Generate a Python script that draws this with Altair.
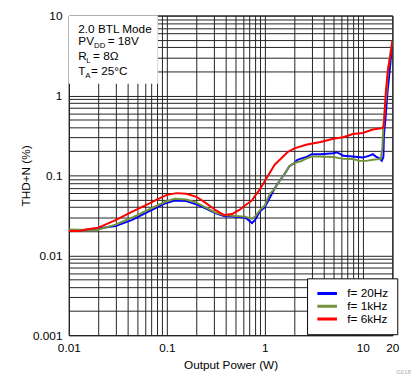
import altair as alt
import pandas as pd

# ---------------- data ----------------
series_names = ["f= 20Hz", "f= 1kHz", "f= 6kHz"]
series_colors = ["#0000FF", "#76923C", "#FF0000"]

p_20hz = [0.01, 0.019, 0.0206, 0.030, 0.0443, 0.065, 0.095, 0.12, 0.158, 0.2, 0.251, 0.316,
          0.383, 0.464, 0.631, 0.708, 0.74, 0.794, 0.89, 1.0, 1.12, 1.26, 1.41, 1.58, 1.78,
          2.0, 2.15, 2.7, 3.0, 3.7, 5.0, 5.4, 5.9, 6.3, 7.9, 10, 11.7, 12.6, 13.6, 14.7,
          15.6, 16.2, 16.4, 17.1, 17.8, 18.5, 19.2, 20]
t_20hz = [0.0204, 0.021, 0.0218, 0.0232, 0.0278, 0.0353, 0.0443, 0.0485, 0.0477, 0.0434,
          0.0385, 0.0335, 0.031, 0.0305, 0.0297, 0.0265, 0.0253, 0.0278, 0.0353, 0.040,
          0.052, 0.069, 0.085, 0.103, 0.13, 0.143, 0.157, 0.172, 0.184, 0.184, 0.189, 0.195,
          0.184, 0.176, 0.172, 0.167, 0.177, 0.184, 0.172, 0.164, 0.152, 0.17, 0.316, 0.555,
          1.07, 1.7, 2.7, 4.5]

p_1khz = [0.01, 0.019, 0.03, 0.0443, 0.065, 0.095, 0.12, 0.158, 0.2, 0.251, 0.316, 0.383,
          0.464, 0.631, 0.736, 0.794, 0.89, 1.0, 1.12, 1.26, 1.41, 1.58, 1.78, 2.0, 2.33,
          2.7, 3.0, 3.5, 5.0, 6.3, 7.9, 9.3, 10.8, 12.6, 15.2, 15.8, 16.2, 16.7, 17.4, 18.0,
          19.2, 20]
t_1khz = [0.021, 0.0206, 0.0242, 0.0297, 0.0374, 0.0464, 0.0509, 0.050, 0.0456, 0.0396,
          0.0341, 0.0319, 0.0313, 0.0305, 0.0285, 0.0305, 0.0368, 0.042, 0.059, 0.0676,
          0.085, 0.103, 0.13, 0.143, 0.15, 0.164, 0.172, 0.172, 0.17, 0.161, 0.16, 0.152,
          0.152, 0.157, 0.161, 0.218, 0.42, 0.67, 1.07, 2.06, 3.6, 4.8]

p_6khz = [0.01, 0.013, 0.015, 0.02, 0.03, 0.045, 0.065, 0.08, 0.1, 0.126, 0.158, 0.2,
          0.215, 0.251, 0.316, 0.383, 0.464, 0.55, 0.631, 0.74, 0.79, 0.86, 1.0, 1.26, 1.7,
          2.0, 2.7, 3.7, 5.0, 6.3, 7.9, 10, 12.6, 15.8, 16.3, 16.7, 17.1, 18.0, 19.2, 20]
t_6khz = [0.0202, 0.0202, 0.021, 0.0222, 0.0275, 0.0354, 0.044, 0.050, 0.057, 0.060, 0.059,
          0.054, 0.051, 0.045, 0.0367, 0.0319, 0.0328, 0.037, 0.0423, 0.0486, 0.055, 0.063,
          0.085, 0.136, 0.195, 0.218, 0.243, 0.262, 0.288, 0.30, 0.33, 0.34, 0.375, 0.39,
          0.41, 0.61, 1.07, 2.06, 3.3, 4.8]

x_grid = [0.01, 0.02, 0.03, 0.04, 0.05, 0.06, 0.07, 0.08, 0.09,
          0.1, 0.2, 0.3, 0.4, 0.5, 0.6, 0.7, 0.8, 0.9,
          1, 2, 3, 4, 5, 6, 7, 8, 9, 10, 20]
x_labels = [0.01, 0.1, 1, 10, 20]
y_grid = [0.001, 0.002, 0.003, 0.004, 0.005, 0.006, 0.007, 0.008, 0.009,
          0.01, 0.02, 0.03, 0.04, 0.05, 0.06, 0.07, 0.08, 0.09,
          0.1, 0.2, 0.3, 0.4, 0.5, 0.6, 0.7, 0.8, 0.9,
          1, 2, 3, 4, 5, 6, 7, 8, 9, 10]
y_labels = [0.001, 0.01, 0.1, 1, 10]

# annotation box (data coordinates)
box_x = [0.01, 0.081]
box_y = [1.40, 10]
note_text = ["2.0 BTL Mode", "PV", "DD", "= 18V", "R", "L", "= 8Ω", "T", "A", "= 25°C"]
note_y = [6.0, 4.3, 4.3, 4.3, 2.75, 2.75, 2.75, 1.80, 1.80, 1.80]
note_dx = [0, 0, 16, 30, 0, 8, 15, 0, 7, 13]
note_dy = [0, 0, 3, 0, 0, 3, 0, 0, 3, 0]
note_size = [12, 12, 8, 12, 12, 8, 12, 12, 8, 12]
note_x = 0.0125

FONT = "Liberation Sans"

rows = []
for name, ps, ts in [(series_names[0], p_20hz, t_20hz),
                     (series_names[1], p_1khz, t_1khz),
                     (series_names[2], p_6khz, t_6khz)]:
    for p, t in zip(ps, ts):
        rows.append({"series": name, "P": p, "T": t})
df = pd.DataFrame(rows)

W, H = 330, 326

x_scale = alt.Scale(type="log", domain=[0.01, 20], nice=False)
y_scale = alt.Scale(type="log", domain=[0.001, 10], nice=False)

def lab_expr(vals):
    arr = "[" + ",".join(repr(v) for v in vals) + "]"
    return f"indexof({arr}, datum.value) >= 0 ? format(datum.value, '~g') : ''"

x_axis = alt.Axis(values=x_grid, labelExpr=lab_expr(x_labels), grid=True, ticks=False,
                  domain=False, title="Output Power (W)", labelPadding=8, titlePadding=6,
                  labelFlush=False, labelOverlap=False)
y_axis = alt.Axis(values=y_grid, labelExpr=lab_expr(y_labels), grid=True, ticks=False,
                  domain=False, title="THD+N (%)", labelPadding=7, titleX=-37,
                  titleBaseline="bottom", labelOverlap=False)

def xenc(field):
    return alt.X(field, scale=x_scale, axis=x_axis)

def yenc(field):
    return alt.Y(field, scale=y_scale, axis=y_axis)

color = alt.Color("series:N",
                  scale=alt.Scale(domain=series_names, range=series_colors),
                  legend=alt.Legend(title=None, orient="none", legendX=243, legendY=268,
                                    fillColor="white", strokeColor="black", padding=9,
                                    symbolType="stroke", symbolStrokeWidth=3, symbolSize=400,
                                    labelFontSize=12, labelFont=FONT, labelOffset=9,
                                    clipHeight=13, rowPadding=0, labelColor="black"))

base = alt.Chart(df)
lines = []
for i, name in enumerate(series_names):
    lines.append(base.transform_filter(alt.datum.series == name)
                 .mark_line(strokeWidth=2, clip=True)
                 .encode(x=xenc("P:Q"), y=yenc("T:Q"), color=color))

box_df = pd.DataFrame({"x": [box_x[0]], "x2": [box_x[1]], "y": [box_y[0]], "y2": [box_y[1]]})
box = alt.Chart(box_df).mark_rect(fill="white").encode(
    x=xenc("x:Q"), x2="x2:Q", y=yenc("y:Q"), y2="y2:Q")

note_df = pd.DataFrame({"text": note_text, "y": note_y, "x": [note_x] * len(note_text)})
notes = []
for i in range(len(note_text)):
    sub = note_df.iloc[[i]]
    notes.append(alt.Chart(sub).mark_text(align="left", baseline="alphabetic", font=FONT,
                                          fontSize=note_size[i], dx=note_dx[i],
                                          dy=note_dy[i], color="black").encode(
        x=xenc("x:Q"), y=yenc("y:Q"), text="text:N"))

code = alt.Chart(pd.DataFrame({"t": ["G018"]})).mark_text(
    align="left", baseline="alphabetic", fontSize=6, font=FONT, color="#aaaaaa").encode(
    x=alt.value(334), y=alt.value(366), text="t:N")

chart = alt.layer(*lines, box, *notes, code).properties(
    width=W, height=H,
    autosize=alt.AutoSizeParams(type="none"),
    padding={"left": 62, "top": 4, "right": 19, "bottom": 44},
    background="white",
).configure_view(stroke="black", strokeWidth=1).configure_axis(
    gridColor="#222222", gridOpacity=1, gridWidth=1,
    labelFont=FONT, labelFontSize=12, labelColor="black",
    titleFont=FONT, titleFontSize=12, titleFontWeight="normal", titleColor="black",
)

chart.save("out.html", embed_options={"renderer": "svg", "actions": False})
